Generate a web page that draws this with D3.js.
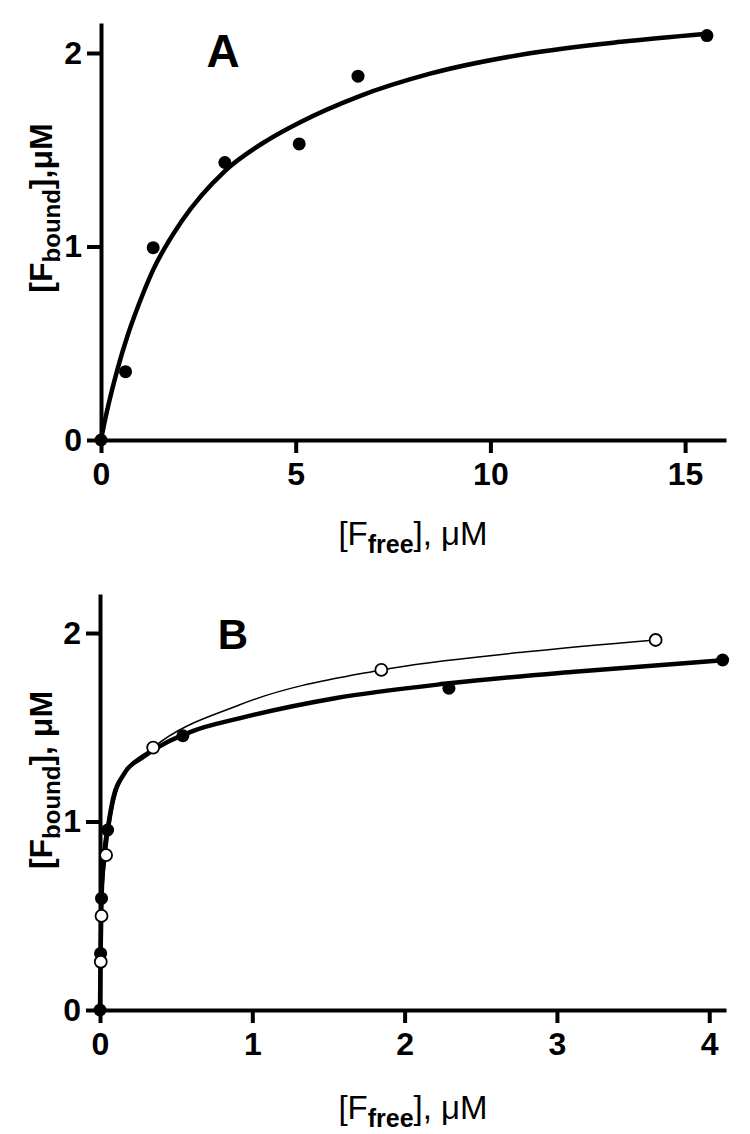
<!DOCTYPE html>
<html>
<head>
<meta charset="utf-8">
<script src="https://cdn.jsdelivr.net/npm/d3@7"></script>
<style>
  html, body { margin: 0; padding: 0; background: #fff; }
  svg { display: block; }
  text { font-family: "Liberation Sans", Arial, Helvetica, sans-serif; fill: #000; }
</style>
</head>
<body>
<svg id="chart" width="750" height="1134"></svg>
<script>
// ---------- Panel A data ----------
const aTicksX = [0, 5, 10, 15];
const aTicksY = [0, 1, 2];
const aPointsX = [0, 0.63, 1.34, 3.18, 5.09, 6.6, 15.56];
const aPointsY = [0, 0.353, 0.994, 1.434, 1.53, 1.88, 2.09];
const aFitX = [0, 0.1, 0.2, 0.415, 0.7, 0.97, 1.33, 2.07, 3.18, 4.28, 5.09, 6.61, 8.45, 10.9, 13.36, 15.56];
const aFitY = [0, 0.1, 0.19, 0.36, 0.55, 0.70, 0.875, 1.13, 1.39, 1.55, 1.64, 1.775, 1.893, 1.995, 2.058, 2.10];

// ---------- Panel B data ----------
const bTicksX = [0, 1, 2, 3, 4];
const bTicksY = [0, 1, 2];
const bFilledX = [0, 0.004, 0.01, 0.05, 0.544, 2.291, 4.088];
const bFilledY = [0, 0.30, 0.592, 0.955, 1.455, 1.707, 1.857];
const bOpenX = [0.005, 0.01, 0.04, 0.349, 1.847, 3.648];
const bOpenY = [0.256, 0.499, 0.822, 1.392, 1.804, 1.963];
const bFilledFitX = [0, 0.004, 0.01, 0.03, 0.05, 0.08, 0.16, 0.286, 0.6, 0.914, 1.543, 2.291, 3.115, 4.09];
const bFilledFitY = [0, 0.30, 0.59, 0.85, 0.96, 1.10, 1.256, 1.344, 1.477, 1.547, 1.654, 1.733, 1.795, 1.855];
const bOpenFitX = [0, 0.005, 0.01, 0.04, 0.08, 0.16, 0.349, 0.914, 1.847, 2.8, 3.648];
const bOpenFitY = [0, 0.26, 0.5, 0.822, 1.05, 1.25, 1.392, 1.618, 1.804, 1.90, 1.963];

const svg = d3.select("#chart");

function drawPanel(cfg) {
  const g = svg.append("g");
  const x = d3.scaleLinear().domain(cfg.xDomain).range(cfg.xRange);
  const y = d3.scaleLinear().domain(cfg.yDomain).range(cfg.yRange);

  const xAxis = d3.axisBottom(x).tickValues(cfg.ticksX).tickSize(13).tickSizeOuter(0).tickPadding(9).tickFormat(d3.format("d"));
  const yAxis = d3.axisLeft(y).tickValues(cfg.ticksY).tickSize(14).tickSizeOuter(0).tickPadding(5).tickFormat(d3.format("d"));

  const gx = g.append("g").attr("transform", `translate(0,${cfg.yRange[0]})`).call(xAxis);
  const gy = g.append("g").attr("transform", `translate(${cfg.xRange[0]},0)`).call(yAxis);
  [gx, gy].forEach(a => {
    a.select(".domain").attr("stroke", "#000").attr("stroke-width", 4);
    a.selectAll(".tick line").attr("stroke", "#000").attr("stroke-width", 4);
    a.selectAll(".tick text").attr("font-size", 32).attr("font-weight", "bold")
      .attr("font-family", '"Liberation Sans", Arial, sans-serif').attr("fill", "#000");
  });
  gx.selectAll(".tick text").attr("dy", "0.71em");

  const line = d3.line().x(d => x(d[0])).y(d => y(d[1])).curve(d3.curveMonotoneX);

  cfg.fits.forEach(f => {
    g.append("path")
      .datum(d3.zip(f.x, f.y))
      .attr("d", line)
      .attr("fill", "none")
      .attr("stroke", "#000")
      .attr("stroke-width", f.width)
      .attr("stroke-linejoin", "round")
      .attr("stroke-linecap", "round");
  });

  cfg.series.forEach(s => {
    g.append("g").selectAll("circle")
      .data(d3.zip(s.x, s.y))
      .join("circle")
      .attr("cx", d => x(d[0]))
      .attr("cy", d => y(d[1]))
      .attr("r", s.r)
      .attr("fill", s.open ? "#fff" : "#000")
      .attr("stroke", "#000")
      .attr("stroke-width", s.open ? 1.8 : 0);
  });

  // panel letter
  g.append("text")
    .attr("x", cfg.letterPos[0]).attr("y", cfg.letterPos[1])
    .attr("text-anchor", "middle").attr("dominant-baseline", "central")
    .attr("font-size", cfg.letterSize).attr("font-weight", "bold")
    .text(cfg.letter);

  // x label
  const xl = g.append("text")
    .attr("x", cfg.xLabelPos[0]).attr("y", cfg.xLabelPos[1])
    .attr("text-anchor", "middle")
    .attr("font-size", 33);
  xl.append("tspan").text("[F");
  xl.append("tspan").attr("font-size", 25).attr("font-weight", "bold").attr("dy", 8).text("free");
  xl.append("tspan").attr("dy", -8).text("], \u03bcM");

  // y label
  const yl = g.append("text")
    .attr("transform", `translate(${cfg.yLabelPos[0]},${cfg.yLabelPos[1]}) rotate(-90)`)
    .attr("text-anchor", "middle")
    .attr("font-size", 32).attr("font-weight", "bold");
  yl.append("tspan").text("[F");
  yl.append("tspan").attr("font-size", 24).attr("dy", 8).text("bound");
  yl.append("tspan").attr("dy", -8).text(cfg.yLabelTail);
}

drawPanel({
  xDomain: [0, 16.05], xRange: [101, 726],
  yDomain: [0, 2.155], yRange: [440, 23],
  ticksX: aTicksX, ticksY: aTicksY,
  fits: [{ x: aFitX, y: aFitY, width: 4.5 }],
  series: [{ x: aPointsX, y: aPointsY, r: 6.5, open: false }],
  letter: "A", letterPos: [223, 51], letterSize: 46,
  xLabelPos: [413, 545],
  yLabelPos: [52, 208], yLabelTail: "],\u03bcM"
});

drawPanel({
  xDomain: [0, 4.11], xRange: [100, 726],
  yDomain: [0, 2.207], yRange: [1010, 594],
  ticksX: bTicksX, ticksY: bTicksY,
  fits: [{ x: bFilledFitX, y: bFilledFitY, width: 4.5 }, { x: bOpenFitX, y: bOpenFitY, width: 1.5 }],
  series: [{ x: bFilledX, y: bFilledY, r: 6.5, open: false }, { x: bOpenX, y: bOpenY, r: 6, open: true }],
  letter: "B", letterPos: [233, 634], letterSize: 42,
  xLabelPos: [413, 1119],
  yLabelPos: [52, 780], yLabelTail: "], \u03bcM"
});
</script>
</body>
</html>
